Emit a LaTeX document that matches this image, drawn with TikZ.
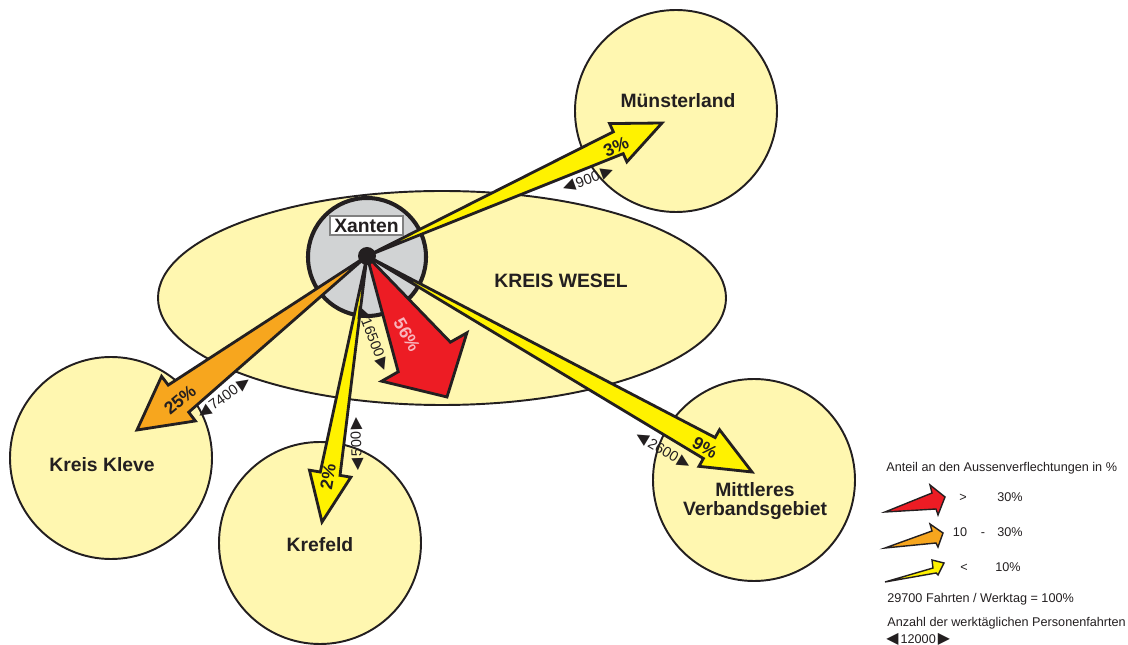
\documentclass[tikz,border=0pt]{standalone}
\usepackage{fontspec}
\setmainfont{Liberation Sans}
\newfontfamily\symfont{DejaVu Sans}
\usetikzlibrary{calc}

\definecolor{regionfill}{RGB}{255,247,176}
\definecolor{xantengray}{RGB}{209,211,212}
\definecolor{flowred}{RGB}{237,28,36}
\definecolor{floworange}{RGB}{247,166,30}
\definecolor{flowyellow}{RGB}{255,242,0}
\definecolor{redtext}{RGB}{248,182,190}
\definecolor{inkblack}{RGB}{35,31,32}

% trip count with the two little triangles
\newcommand{\tripcount}[1]{{\symfont\fontsize{9}{9}\selectfont ◀}\hspace{1.2pt}#1\hspace{1.2pt}{\symfont\fontsize{9}{9}\selectfont ▶}}

% tapered flow arrow: fill, from, to, head length, shaft half width, head half width (px)
\newcommand{\flowarrow}[6]{%
    \coordinate (hb) at ($(#3)!{#4*0.2mm}!(#2)$);
    \filldraw[flow, fill=#1] (#2)
        -- ($(hb)!{#5*0.2mm}!-90:(#3)$) -- ($(hb)!{#6*0.2mm}!-90:(#3)$)
        -- (#3)
        -- ($(hb)!{#6*0.2mm}!90:(#3)$) -- ($(hb)!{#5*0.2mm}!90:(#3)$) -- cycle;
}

\begin{document}
\begin{tikzpicture}[x=0.2mm,y=-0.2mm,
    region node/.style={circle,draw=inkblack,line width=1.1pt,fill=regionfill,minimum size=40.4mm,inner sep=0pt},
    hub node/.style={circle,draw=inkblack,line width=2.3pt,fill=xantengray,minimum size=23.6mm,inner sep=0pt},
    place/.style={font=\fontsize{11}{11}\selectfont\bfseries,text=inkblack,align=center,inner sep=0pt},
    share/.style={font=\fontsize{10}{10}\selectfont\bfseries,text=inkblack,inner sep=0pt},
    count/.style={font=\fontsize{8.3}{8.3}\selectfont,text=inkblack,inner sep=0pt},
    legend/.style={font=\fontsize{7.2}{7.2}\selectfont,text=inkblack,inner sep=0pt},
    legend row/.style={legend,anchor=base},
    flow/.style={draw=inkblack,line width=1.6pt,line join=miter},
    key arrow/.style={draw=inkblack,line width=0.8pt,line join=miter}]

    \useasboundingbox (0,0) rectangle (1128,645);

    % Define regions
    \draw[draw=inkblack,line width=1.1pt,fill=regionfill] (442,298) ellipse [x radius=284, y radius=107];
    \node[region node] (kleve) at (111,458) {};
    \node[region node] (krefeld) at (320,543) {};
    \node[region node] (muenster) at (676,111) {};
    \node[region node] (mittel) at (754,480) {};
    \node[hub node] (xanten) at (367,257) {};

    \node[place] (lwesel) at (561,281) {KREIS WESEL};
    \node[place] (lkleve) at (102,465) {Kreis Kleve};
    \node[place] (lkrefeld) at (320,545) {Krefeld};
    \node[place] (lmuenster) at (678,101) {Münsterland};
    \node[place] (lmittel) at (755,501) {Mittleres\\Verbandsgebiet};

    % Arrow tips
    \coordinate (src) at (367,256);
    \coordinate (tkleve) at (137,430);
    \coordinate (tkrefeld) at (322,522);
    \coordinate (tmuenster) at (662,123);
    \coordinate (tmittel) at (752,472);
    \coordinate (tkreis) at (447,397);

    % Draw flows
    \flowarrow{floworange}{src}{tkleve}{52}{17}{28}
    \flowarrow{flowyellow}{src}{tkrefeld}{49}{10}{21}
    \flowarrow{flowyellow}{src}{tmuenster}{48}{12}{21}
    \flowarrow{flowyellow}{src}{tmittel}{49}{12}{21}
    \flowarrow{flowred}{src}{tkreis}{46}{30}{49}

    \fill[inkblack] (src) circle [radius=9];
    \node[draw=gray,line width=0.6pt,fill=white,minimum width=14.6mm,minimum height=3.8mm,
        inner sep=0.5pt,font=\fontsize{11}{11}\selectfont\bfseries,text=inkblack] (lxanten) at (366.5,225.5) {Xanten};

    % Shares
    \node[share, rotate=40] (p25) at (180,400) {25\%};
    \node[share, rotate=80] (p2) at (328,477) {2\%};
    \node[share, rotate=24] (p3) at (616,147) {3\%};
    \node[share, rotate=-30] (p9) at (705,448) {9\%};
    \node[share, rotate=-60, text=redtext] (p56) at (407,335) {56\%};

    % Counts
    \node[count, rotate=36] (c7400) at (224,398) {\tripcount{7400}};
    \node[count, rotate=92] (c500) at (357,444) {\tripcount{500}};
    \node[count, rotate=20] (c900) at (588,180) {\tripcount{900}};
    \node[count, rotate=-31] (c2600) at (663,451) {\tripcount{2600}};
    \node[count, rotate=-69] (c16500) at (372,338) {\tripcount{16500}};

    % Legend
    \node[legend, anchor=west] (ltitle) at (886,468) {Anteil an den Aussenverflechtungen in \%};
    \filldraw[key arrow, fill=flowred] (885,512) -- (932,493) -- (930,485) -- (945,497) -- (938,515) -- (936,509) -- cycle;
    \filldraw[key arrow, fill=floworange] (885,548) -- (932,531) -- (930,524) -- (943,533) -- (938,547) -- (936,543) -- cycle;
    \filldraw[key arrow, fill=flowyellow] (885,582) -- (933,568) -- (932,560) -- (944,563) -- (938,575) -- (936,573) -- cycle;
    \node[legend row] (lgt) at (963,502) {>};
    \node[legend row] (lgt30) at (1010,502) {30\%};
    \node[legend row] (lmid10) at (960,537) {10};
    \node[legend row] (lmiddash) at (983,537) {-};
    \node[legend row] (lmid30) at (1010,537) {30\%};
    \node[legend row] (llt) at (964,572) {<};
    \node[legend row] (llt10) at (1008,572) {10\%};
    \node[legend, anchor=west] (ltotal) at (887,599) {29700 Fahrten / Werktag = 100\%};
    \node[legend, anchor=west] (lcount) at (887,623) {Anzahl der werktäglichen Personenfahrten};
    \node[legend, anchor=west] (lcountkey) at (886,639) {\tripcount{12000}};

\end{tikzpicture}
\end{document}
